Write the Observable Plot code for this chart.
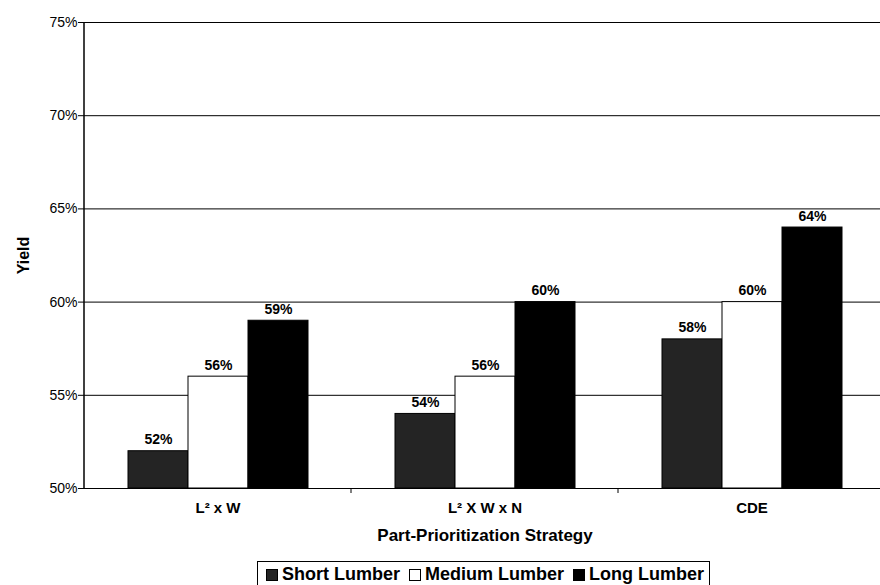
<!DOCTYPE html>
<html>
<head>
<meta charset="utf-8">
<script src="https://cdn.jsdelivr.net/npm/d3@7"></script>
<script src="https://cdn.jsdelivr.net/npm/@observablehq/plot@0.6"></script>
<style>
  body { margin: 0; background: #fff; font-family: "Liberation Sans", Arial, sans-serif; }
  #chart { width: 880px; }
  .legend { display: flex; justify-content: flex-start; margin-top: 1px; padding-left: 257px; }
  .legend-box { border: 1px solid #000; padding: 1px 5px 0 8px; display: flex; gap: 9px; align-items: center; height: 23px;
    font: bold 18px "Liberation Sans", Arial, sans-serif; color: #000; }
  .item { display: flex; align-items: center; gap: 4px; }
  .sw { width: 12px; height: 12px; box-sizing: border-box; border: 1px solid #000; display: inline-block; }
</style>
</head>
<body>
<div id="chart"></div>
<script>
const categories = ["L² x W", "L² X W x N", "CDE"];
const series = ["Short Lumber", "Medium Lumber", "Long Lumber"];
const shortLumber = [0.52, 0.54, 0.58];
const mediumLumber = [0.56, 0.56, 0.60];
const longLumber = [0.59, 0.60, 0.64];
const yTicks = [0.50, 0.55, 0.60, 0.65, 0.70, 0.75];
const colors = ["#242424", "#ffffff", "#000000"];

const seriesValues = [shortLumber, mediumLumber, longLumber];
const data = [];
categories.forEach((c, i) => series.forEach((s, j) => data.push({cat: c, series: s, value: seriesValues[j][i]})));

const W = 880, H = 560;
const plot = Plot.plot({
  width: W, height: H,
  marginLeft: 84, marginRight: -5, marginTop: 22, marginBottom: 72,
  style: {fontFamily: "'Liberation Sans', Arial, sans-serif", background: "#fff", color: "#000"},
  fx: {domain: categories, padding: 0},
  x: {domain: series, paddingInner: 0, paddingOuter: 0.725, axis: null},
  y: {domain: [0.50, 0.75]},
  color: {domain: series, range: colors},
  marks: [
    Plot.ruleY(yTicks.slice(1), {stroke: "#000", strokeWidth: 1}),
    Plot.barY(data, {fx: "cat", x: "series", y1: 0.5, y2: "value", fill: "series", stroke: "#000", strokeWidth: 1}),
    Plot.text(data, {fx: "cat", x: "series", y: "value", text: d => d3.format(".0%")(d.value),
      lineAnchor: "bottom", dy: -7, fontWeight: "bold", fontSize: 14, fill: "#000"}),
    Plot.ruleY([0.5], {stroke: "#000", strokeWidth: 1}),
    Plot.axisY({ticks: yTicks, tickFormat: d3.format(".0%"), tickSize: 6, tickPadding: 1, fontSize: 14,
      label: "Yield", labelAnchor: "center", labelArrow: false, labelOffset: 67}),
    Plot.axisFx({anchor: "bottom", tickSize: 0, tickPadding: 14, fontSize: 15, fontWeight: "bold",
      label: "Part-Prioritization Strategy", labelAnchor: "center", labelArrow: false, labelOffset: 52})
  ]
});
document.getElementById("chart").appendChild(plot);

// axis line and category boundary ticks from the library's scales
const fx = plot.scale("fx"), y = plot.scale("y");
const fxs = d3.scaleBand().domain(fx.domain).range(fx.range).paddingInner(0).paddingOuter(0);
const ys = d3.scaleLinear().domain(y.domain).range(y.range);
const svg = d3.select(plot);
const x0 = fxs.range()[0];
svg.append("line").attr("x1", x0).attr("x2", x0).attr("y1", ys(0.75)).attr("y2", ys(0.5))
  .attr("stroke", "#000").attr("stroke-width", 1.5);
categories.slice(0, -1).forEach(c => {
  const xb = fxs(c) + fxs.bandwidth();
  svg.append("line").attr("x1", xb).attr("x2", xb).attr("y1", ys(0.5)).attr("y2", ys(0.5) + 5)
    .attr("stroke", "#000").attr("stroke-width", 1);
});

// legend
const legend = document.createElement("div");
legend.className = "legend";
legend.innerHTML = `<div class="legend-box">${series.map((s, i) =>
  `<span class="item"><span class="sw" style="background:${colors[i]}"></span>${s}</span>`).join("")}</div>`;
document.body.appendChild(legend);

// style labels
svg.selectAll("[aria-label='y-axis label'] text").attr("font-weight", "bold").attr("font-size", 16);
svg.selectAll("[aria-label='fx-axis label'] text").attr("font-weight", "bold").attr("font-size", 17);
</script>
</body>
</html>
